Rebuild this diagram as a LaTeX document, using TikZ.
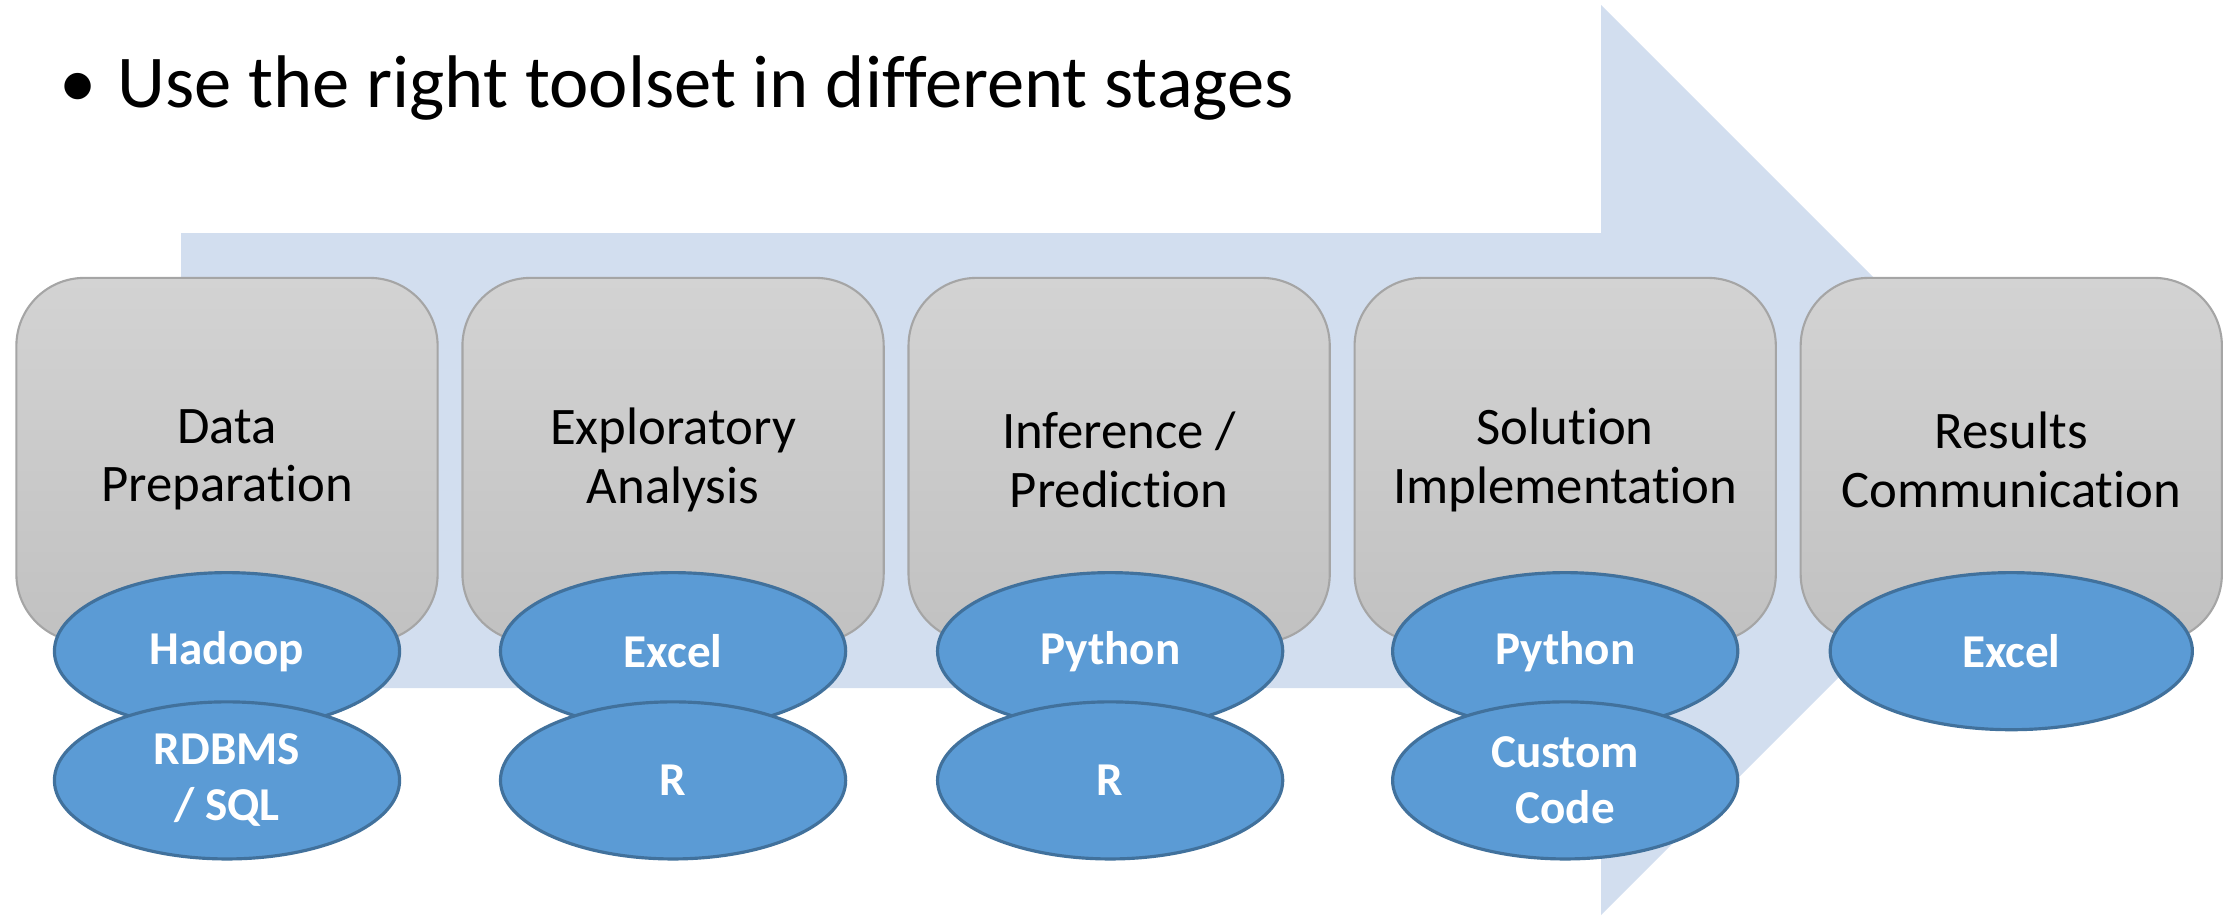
\documentclass[tikz,border=0pt]{standalone}
\usepackage{fontspec}
\setmainfont{Carlito}[Ligatures={NoCommon}]
\usetikzlibrary{positioning,shapes.geometric}
\definecolor{FlowBlue}{HTML}{D2DEEF}
\definecolor{ToolBlue}{HTML}{5B9BD5}
\definecolor{ToolEdge}{HTML}{41719C}
\definecolor{StageTop}{HTML}{D3D3D3}
\definecolor{StageBot}{HTML}{C1C1C1}
\definecolor{StageEdge}{HTML}{A5A5A5}
\tikzset{
  stagebox/.style={draw=StageEdge,line width=0.6pt,rounded corners=6.8mm,top color=StageTop,bottom color=StageBot,minimum width=42.1mm,minimum height=36.4mm,align=center,inner sep=2pt,font=\fontsize{15}{16.6}\selectfont},
  toolell/.style={ellipse,draw=ToolEdge,line width=0.9pt,fill=ToolBlue,text=white,minimum width=34.5mm,minimum height=15.7mm,inner sep=0pt,align=center,font=\bfseries\fontsize{13.4}{15.9}\selectfont},
  titletext/.style={anchor=base west,inner sep=0pt,font=\fontsize{21.2}{25}\selectfont}
}
\begin{document}
\begin{tikzpicture}[x=0.01cm,y=-0.01cm,node distance=2.27mm and 2.27mm]
\useasboundingbox (0,0) rectangle (2236,915);
% big arrow behind the stages
\fill[FlowBlue] (181,233) -- (1601,233) -- (1601,5) -- (2056,460) -- (1601,915) -- (1601,688) -- (181,688) -- cycle;
\node[titletext] (title) at (59,107) {•\hspace{0.28em}Use the right toolset in different stages};
% stages
\node[stagebox] (prep) at (227,460) {Data\\Preparation};
\node[stagebox,right=of prep] (expl) {Exploratory\\Analysis};
\node[stagebox,right=of expl] (infer) {Inference /\\Prediction};
\node[stagebox,right=of infer] (impl) {Solution\\Implementation};
\node[stagebox,right=of impl] (comm) {Results\\Communication};
% tools
\node[toolell] (hadoop) at ([yshift=-0.8mm]prep.south) {Hadoop};
\node[toolell,below=-3.1mm of hadoop] (rdbms) {RDBMS\\/ SQL};
\node[toolell] (excelA) at ([yshift=-0.8mm]expl.south) {Excel};
\node[toolell,below=-3.1mm of excelA] (rA) {R};
\node[toolell] (pyA) at ([xshift=-0.9mm,yshift=-0.8mm]infer.south) {Python};
\node[toolell,below=-3.1mm of pyA] (rB) {R};
\node[toolell] (pyB) at ([yshift=-0.8mm]impl.south) {Python};
\node[toolell,below=-3.1mm of pyB] (custom) {Custom\\Code};
\node[toolell,minimum width=36.2mm] (excelB) at ([yshift=-0.8mm]comm.south) {Excel};
\end{tikzpicture}
\end{document}
